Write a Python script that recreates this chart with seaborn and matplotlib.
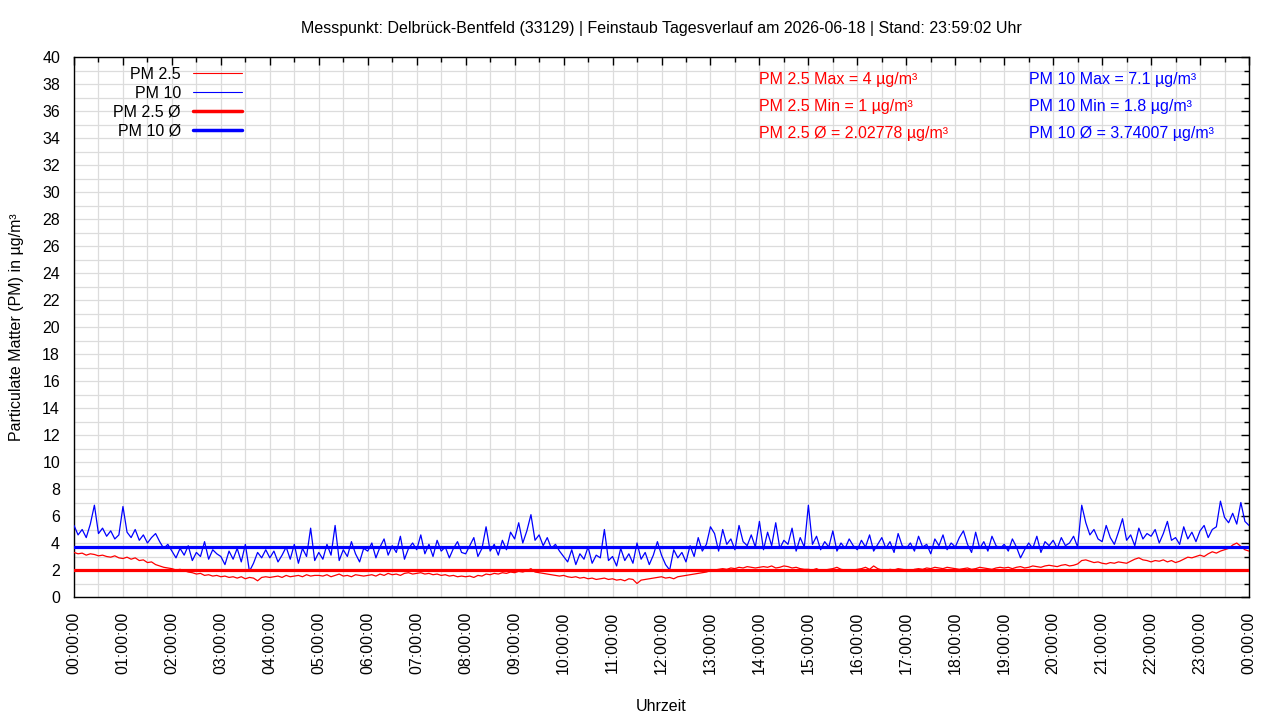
import numpy as np
import pandas as pd
import matplotlib
matplotlib.use("Agg")
import matplotlib.pyplot as plt
import seaborn as sns
from matplotlib.ticker import MultipleLocator, FixedLocator
from matplotlib.lines import Line2D

# ---------------- data (5-minute readings, 00:00 .. 24:00) ----------------
pm10_values = [
    5.3, 4.6, 5.0, 4.4, 5.4, 6.8, 4.7, 5.1, 4.5, 4.9, 4.3, 4.6,
    6.7, 4.8, 4.4, 5.0, 4.2, 4.6, 4.0, 4.4, 4.7, 4.1, 3.6, 3.9,
    3.4, 2.9, 3.6, 3.1, 3.8, 2.7, 3.3, 3.0, 4.1, 2.8, 3.5, 3.2,
    3.0, 2.4, 3.4, 2.8, 3.6, 2.6, 3.9, 1.9, 2.5, 3.3, 2.9, 3.5,
    2.9, 3.4, 2.6, 3.1, 3.7, 2.8, 3.9, 2.5, 3.6, 3.0, 5.1, 2.7,
    3.3, 2.8, 3.9, 3.1, 5.3, 2.7, 3.5, 3.0, 4.1, 3.2, 2.6, 3.6,
    3.4, 4.0, 2.9, 3.7, 4.3, 3.1, 3.8, 3.3, 4.5, 2.8, 3.6, 4.0,
    3.5, 4.6, 3.2, 3.9, 3.0, 4.2, 3.4, 3.7, 2.9, 3.6, 4.1, 3.3,
    3.2, 3.8, 4.4, 3.0, 3.6, 5.2, 3.4, 3.9, 3.1, 4.2, 3.5, 4.8,
    4.3, 5.5, 4.0, 4.9, 6.1, 4.2, 4.6, 3.8, 4.4, 3.6, 3.9, 3.4,
    3.0, 2.6, 3.5, 2.4, 3.2, 2.8, 3.7, 2.5, 3.1, 2.9, 5.0, 2.7,
    3.0, 2.3, 3.6, 2.7, 3.2, 2.5, 4.0, 2.8, 3.3, 2.4, 3.1, 4.1,
    3.1, 2.4, 2.0, 3.5, 2.9, 3.3, 2.6, 3.8, 3.0, 4.4, 3.4, 3.9,
    5.2, 4.7, 3.4, 5.0, 3.9, 4.3, 3.5, 5.3, 4.1, 3.8, 4.6, 3.7,
    5.6, 3.5, 4.8, 3.8, 5.5, 3.6, 4.2, 3.9, 5.1, 3.4, 4.4, 3.7,
    6.8, 3.9, 4.5, 3.5, 4.1, 3.7, 4.9, 3.4, 4.0, 3.6, 4.3, 3.8,
    3.5, 4.2, 3.7, 4.6, 3.4, 3.9, 4.4, 3.6, 4.1, 3.3, 4.7, 3.8,
    3.6, 4.0, 3.4, 4.5, 3.7, 3.9, 3.2, 4.3, 3.8, 4.6, 3.5, 4.0,
    3.7, 4.4, 4.9, 3.9, 3.3, 4.8, 3.6, 4.1, 3.4, 4.5, 3.8, 3.6,
    3.9, 3.4, 4.3, 3.7, 2.9, 3.5, 4.0, 3.6, 4.5, 3.3, 4.1, 3.8,
    4.2, 3.6, 4.4, 3.8, 4.0, 4.5, 3.7, 6.8, 5.5, 4.6, 5.0, 4.3,
    4.1, 5.3, 4.4, 3.9, 4.8, 5.8, 4.2, 4.6, 3.8, 5.1, 4.3, 4.7,
    4.5, 5.0, 4.0, 4.7, 5.6, 4.2, 4.4, 3.9, 5.2, 4.3, 4.8, 4.1,
    4.9, 5.3, 4.4, 5.0, 5.2, 7.1, 5.9, 5.5, 6.2, 5.4, 7.0, 5.6,
    5.3,
]
pm25_values = [
    3.3, 3.2, 3.25, 3.1, 3.2, 3.15, 3.05, 3.1, 3.0, 2.95, 3.05, 2.9,
    2.85, 2.95, 2.8, 2.9, 2.7, 2.75, 2.55, 2.6, 2.4, 2.3, 2.2, 2.15,
    2.1, 2.0, 2.05, 1.95, 1.85, 1.8, 1.7, 1.75, 1.6, 1.65, 1.55, 1.6,
    1.5, 1.55, 1.45, 1.5, 1.4, 1.5, 1.35, 1.45, 1.4, 1.2, 1.45, 1.5,
    1.45, 1.5, 1.55, 1.45, 1.6, 1.5, 1.55, 1.6, 1.5, 1.65, 1.55, 1.6,
    1.6, 1.55, 1.65, 1.5, 1.6, 1.7, 1.55, 1.6, 1.5, 1.65, 1.6, 1.55,
    1.6, 1.65, 1.55, 1.7, 1.6, 1.75, 1.65, 1.7, 1.6, 1.75, 1.8, 1.7,
    1.75, 1.8, 1.7, 1.75, 1.65, 1.7, 1.6, 1.65, 1.55, 1.6, 1.5, 1.55,
    1.5, 1.55, 1.45, 1.6, 1.55, 1.7, 1.65, 1.75, 1.7, 1.8, 1.75, 1.85,
    1.8, 1.9, 1.85, 1.95, 2.1, 1.85, 1.8, 1.75, 1.7, 1.65, 1.6, 1.55,
    1.6, 1.5, 1.45, 1.5, 1.4, 1.45, 1.35, 1.4, 1.3, 1.35, 1.4, 1.3,
    1.35, 1.25, 1.3, 1.2, 1.35, 1.3, 1.0, 1.25, 1.3, 1.35, 1.4, 1.45,
    1.5, 1.4, 1.45, 1.35, 1.5, 1.55, 1.6, 1.65, 1.7, 1.75, 1.8, 1.85,
    1.95, 2.0, 2.05, 2.1, 2.05, 2.15, 2.1, 2.2, 2.15, 2.25, 2.2, 2.15,
    2.2, 2.25, 2.2, 2.3, 2.15, 2.2, 2.3, 2.25, 2.15, 2.2, 2.1, 2.05,
    2.05, 2.0, 2.1, 1.95, 2.0, 2.05, 2.1, 2.2, 2.05, 2.0, 1.95, 2.0,
    2.05, 2.1, 2.2, 2.05, 2.3, 2.1, 2.0, 1.95, 2.05, 2.0, 2.1, 2.05,
    2.0, 1.95, 2.05, 2.1, 2.05, 2.15, 2.1, 2.2, 2.15, 2.1, 2.2, 2.15,
    2.1, 2.05, 2.1, 2.15, 2.05, 2.1, 2.2, 2.15, 2.1, 2.05, 2.15, 2.2,
    2.15, 2.2, 2.1, 2.2, 2.25, 2.15, 2.2, 2.3, 2.25, 2.2, 2.3, 2.35,
    2.3, 2.25, 2.35, 2.4, 2.3, 2.35, 2.45, 2.7, 2.75, 2.65, 2.55, 2.6,
    2.5, 2.45, 2.55, 2.5, 2.6, 2.55, 2.5, 2.65, 2.8, 2.9, 2.75, 2.7,
    2.6, 2.7, 2.65, 2.75, 2.6, 2.7, 2.55, 2.65, 2.8, 2.95, 2.9, 3.0,
    3.1, 3.0, 3.2, 3.35, 3.25, 3.4, 3.5, 3.6, 3.85, 4.0, 3.75, 3.5,
    3.4,
]
pm25_mean = 2.02778
pm10_mean = 3.74007
pm25_max, pm25_min = 4, 1
pm10_max, pm10_min = 7.1, 1.8
hour_labels = [f"{h:02d}:00:00" for h in range(24)] + ["00:00:00"]

title_text = "Messpunkt: Delbrück-Bentfeld (33129) | Feinstaub Tagesverlauf am 2026-06-18 | Stand: 23:59:02 Uhr"

hours = np.arange(len(pm10_values)) * 5 / 60.0
df = pd.DataFrame({"hour": hours, "pm25": pm25_values, "pm10": pm10_values})

# ---------------- styling ----------------
sns.set_style("white")
plt.rcParams["font.family"] = ["Liberation Sans", "DejaVu Sans"]
plt.rcParams["font.size"] = 11
plt.rcParams["text.color"] = "black"
plt.rcParams["axes.labelcolor"] = "black"
plt.rcParams["xtick.color"] = "black"
plt.rcParams["ytick.color"] = "black"

fig = plt.figure(figsize=(12.8, 7.2), dpi=100)
ax = fig.add_axes([74 / 1280, 1 - 597 / 720, (1249 - 74) / 1280, (597 - 57) / 720])

grid_c = "#dcdcdc"
ax.set_axisbelow(True)

sns.lineplot(data=df, x="hour", y="pm10", ax=ax, color="#0000ff", linewidth=0.9, zorder=3)
sns.lineplot(data=df, x="hour", y="pm25", ax=ax, color="#ff0000", linewidth=0.9, zorder=3)
ax.axhline(pm25_mean, color="#ff0000", linewidth=2.3, zorder=4)
ax.axhline(pm10_mean, color="#0000ff", linewidth=2.3, zorder=4)

ax.set_xlim(0, 24)
ax.set_ylim(0, 40)
ax.xaxis.set_major_locator(FixedLocator(range(25)))
ax.xaxis.set_minor_locator(MultipleLocator(0.5))
ax.set_xticklabels(hour_labels, rotation=90, va="top", ha="center")
ax.yaxis.set_major_locator(MultipleLocator(2))
ax.yaxis.set_minor_locator(MultipleLocator(1))
ax.grid(True, which="both", color=grid_c, linewidth=0.9)
ax.tick_params(which="both", direction="in", top=True, right=True,
               colors="black", labelcolor="black", labelsize=11.5)
ax.tick_params(which="major", length=6, width=1)
ax.tick_params(which="minor", length=3.5, width=1)
ax.tick_params(axis="x", pad=10.5)
ax.tick_params(axis="y", pad=10)
for s in ax.spines.values():
    s.set_color("black")
    s.set_linewidth(1)

ax.set_xlabel("Uhrzeit", fontsize=11.5, labelpad=18, color="black")
ax.set_ylabel("Particulate Matter (PM) in µg/m³", fontsize=11.5, labelpad=13, color="black")
ax.set_title(title_text, fontsize=11.5, pad=17, color="black")

# legend (text first, sample right)
handles = [
    Line2D([], [], color="#ff0000", linewidth=0.8),
    Line2D([], [], color="#0000ff", linewidth=0.8),
    Line2D([], [], color="#ff0000", linewidth=2.5),
    Line2D([], [], color="#0000ff", linewidth=2.5),
]
labels = ["PM 2.5", "PM 10", "PM 2.5 Ø", "PM 10 Ø"]
leg = ax.legend(handles, labels, loc="upper right",
                bbox_to_anchor=((242 - 74) / 1175, (597 - 67) / 540),
                frameon=False, markerfirst=False, fontsize=11.5, handlelength=3.07,
                handletextpad=0.75, labelspacing=0.24, borderaxespad=0, borderpad=0)
for t in leg.get_texts():
    t.set_color("black")

# statistics text
stats_red = [f"PM 2.5 Max = {pm25_max} µg/m³", f"PM 2.5 Min = {pm25_min} µg/m³",
             f"PM 2.5 Ø = {pm25_mean} µg/m³"]
stats_blue = [f"PM 10 Max = {pm10_max} µg/m³", f"PM 10 Min = {pm10_min} µg/m³",
              f"PM 10 Ø = {pm10_mean} µg/m³"]
for i, (r, b) in enumerate(zip(stats_red, stats_blue)):
    ypix = 79.5 + 27 * i
    fig.text(759 / 1280, 1 - ypix / 720, r, color="#ff0000", fontsize=11.5, va="center")
    fig.text(1029 / 1280, 1 - ypix / 720, b, color="#0000ff", fontsize=11.5, va="center")

fig.savefig("out.png", dpi=100, facecolor="white")
